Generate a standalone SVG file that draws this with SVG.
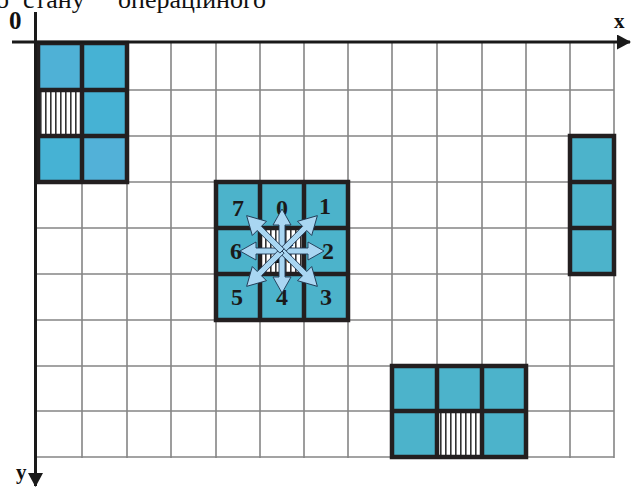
<svg xmlns="http://www.w3.org/2000/svg" xmlns:xlink="http://www.w3.org/1999/xlink" width="642" height="498" viewBox="0 0 642 498">
<defs>
<style>
.grid{stroke:#858585;stroke-width:1.6;fill:none}
.axis{stroke:#1a1a1a;stroke-width:3;fill:none}
.cell{fill:#4cb3cb}
.cellb{fill:#46b2d4}
.bord{stroke:#231f20;stroke-width:4.5;fill:none;stroke-linecap:square}
.hatch{fill:url(#hp)}
.lbl{font-family:"Liberation Serif","Times New Roman",serif;font-weight:bold;fill:#111}
.num{font-family:"Liberation Serif","Times New Roman",serif;font-weight:bold;font-size:24px;fill:#1a1a1a;text-anchor:middle}
.arr{fill:#a9d6f2;stroke:#1d3550;stroke-width:0.9;stroke-linejoin:miter}
.top{font-family:"Liberation Serif","Times New Roman",serif;font-size:26px;fill:#111}
</style>
<pattern id="hp" patternUnits="userSpaceOnUse" width="5" height="10" x="0" y="0">
<rect width="5" height="10" fill="#fff"/>
<rect x="0" width="1.6" height="10" fill="#333"/>
</pattern>
<polygon id="aAx" class="arr" points="0,-3 26,-3 26,-9 42,0 26,9 26,3 0,3"/>
<polygon id="aDg" class="arr" points="0,-3 32,-3 32,-10 50,0 32,10 32,3 0,3"/>
<marker id="ah" markerWidth="14" markerHeight="15" refX="13" refY="7.5" orient="auto" markerUnits="userSpaceOnUse">
<polygon points="0,0 14,7.5 0,15" fill="#1a1a1a"/>
</marker>
</defs>
<rect width="642" height="498" fill="#fff"/>
<text class="top" x="-4" y="8">о</text>
<text class="top" x="23" y="8">стану</text>
<text class="top" x="118" y="8">операційного</text>
<g id="grid">
<path class="grid" d="M82 43V458M127 43V458M171 43V458M216 43V458M260 43V458M304 43V458M348 43V458M392 43V458M437 43V458M482 43V458M526 43V458M570 43V458M614 43V458"/>
<path class="grid" d="M37 90H614M37 136H614M37 182H614M37 228H614M37 274H614M37 320H614M37 366H614M37 411H614M37 457H614"/>
</g>
<g id="block-topleft">
<rect class="cellb" x="37" y="43" width="45" height="47" style="fill:#4fb1d6"/>
<rect class="cellb" x="82" y="43" width="45" height="47"/>
<rect class="hatch" x="37" y="90" width="45" height="46"/>
<rect class="cellb" x="82" y="90" width="45" height="46"/>
<rect class="cellb" x="37" y="136" width="45" height="46"/>
<rect class="cellb" x="82" y="136" width="45" height="46" style="fill:#52b1d8"/>
<path class="bord" d="M38 43H127V182H38ZM82 43V182M38 90H127M38 136H127"/>
</g>
<g id="block-right">
<rect class="cell" x="570" y="136" width="44" height="138"/>
<path class="bord" d="M570 136H614V274H570ZM570 182H614M570 228H614"/>
</g>
<g id="block-bottom">
<rect class="cell" x="392" y="366" width="134" height="91"/>
<rect class="hatch" x="437" y="411" width="45" height="46"/>
<path class="bord" d="M392 366H526V457H392ZM437 366V457M482 366V457M392 411H526"/>
</g>
<g id="block-center">
<rect class="cell" x="216" y="182" width="132" height="138"/>
<rect class="hatch" x="260" y="228" width="44" height="46"/>
<path class="bord" d="M216 182H348V320H216ZM260 182V320M304 182V320M216 228H348M216 274H348"/>
<text class="num" x="238" y="216">7</text>
<text class="num" x="282" y="216">0</text>
<text class="num" x="325" y="214">1</text>
<text class="num" x="236" y="259">6</text>
<text class="num" x="328" y="259">2</text>
<text class="num" x="237" y="305">5</text>
<text class="num" x="282" y="305">4</text>
<text class="num" x="326" y="305">3</text>
<text class="lbl" x="284" y="263" font-size="27" text-anchor="middle">K</text>
</g>
<g id="connectors">
<use xlink:href="#aAx" transform="translate(282,251) rotate(-90)"/>
<use xlink:href="#aAx" transform="translate(282,251) rotate(90)"/>
<use xlink:href="#aAx" transform="translate(282,251) rotate(180)"/>
<use xlink:href="#aAx" transform="translate(282,251)"/>
<use xlink:href="#aDg" transform="translate(282,251) rotate(-45)"/>
<use xlink:href="#aDg" transform="translate(282,251) rotate(45)"/>
<use xlink:href="#aDg" transform="translate(282,251) rotate(135)"/>
<use xlink:href="#aDg" transform="translate(282,251) rotate(-135)"/>
</g>
<g id="axes">
<path class="axis" d="M12 42H630" marker-end="url(#ah)"/>
<path class="axis" d="M35.5 12V486" marker-end="url(#ah)"/>
<text class="lbl" x="9" y="29" font-size="25">0</text>
<text class="lbl" x="614" y="28" font-size="21">x</text>
<text class="lbl" x="16" y="479" font-size="21">y</text>
</g>
</svg>
